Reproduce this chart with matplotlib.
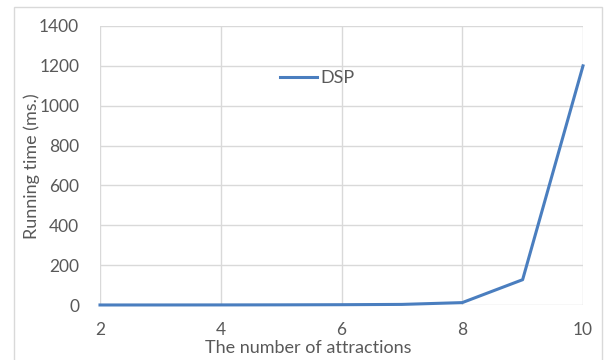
import matplotlib
matplotlib.use("Agg")
import matplotlib.pyplot as plt
import matplotlib.patches as patches

# data
attractions = [2, 3, 4, 5, 6, 7, 8, 9, 10]
dsp_ms = [0.1, 0.2, 0.4, 0.8, 1.5, 3, 12, 127, 1200]

x_ticks = [2, 4, 6, 8, 10]
y_ticks = [0, 200, 400, 600, 800, 1000, 1200, 1400]

line_color = '#4A7EBF'
grid_color = '#D9D9D9'
text_color = '#595959'

plt.rcParams['font.family'] = ['Lato', 'DejaVu Sans']

fig = plt.figure(figsize=(6.05, 3.6), dpi=100, facecolor='white')
ax = fig.add_axes([100 / 605, 1 - 305 / 360, 483 / 605, 279 / 360])

ax.plot(attractions, dsp_ms, color=line_color, lw=2.2, label='DSP',
        solid_joinstyle='round', clip_on=False, zorder=3)

ax.set_xlim(2, 10)
ax.set_ylim(0, 1400)
ax.set_xticks(x_ticks)
ax.set_yticks(y_ticks)
ax.grid(True, color=grid_color, lw=1)
ax.set_axisbelow(True)
for s in ax.spines.values():
    s.set_visible(False)
ax.tick_params(length=0, labelsize=12.5, labelcolor=text_color)
ax.tick_params(axis='y', pad=15)
ax.tick_params(axis='x', pad=12)

# Excel centres the axis title on the whole chart area
fig.text(308 / 605, 1 - 348 / 360, 'The number of attractions', fontsize=13,
         color=text_color, ha='center', va='center')
fig.text(32 / 605, 1 - 166 / 360, 'Running time (ms.)', fontsize=13,
         color=text_color, ha='center', va='center', rotation=90)

leg = ax.legend(loc='upper left', bbox_to_anchor=(0.34, 0.9), frameon=False,
                fontsize=13, handlelength=2.0, handletextpad=0.2,
                labelcolor=text_color)

# outer chart frame
fig.patches.append(patches.Rectangle((14 / 605, -0.05), 588 / 605, 1 - 7 / 360 + 0.05,
                                     transform=fig.transFigure, fill=False,
                                     edgecolor='#D9D9D9', lw=1))

fig.savefig('out.png', dpi=100, facecolor='white')
